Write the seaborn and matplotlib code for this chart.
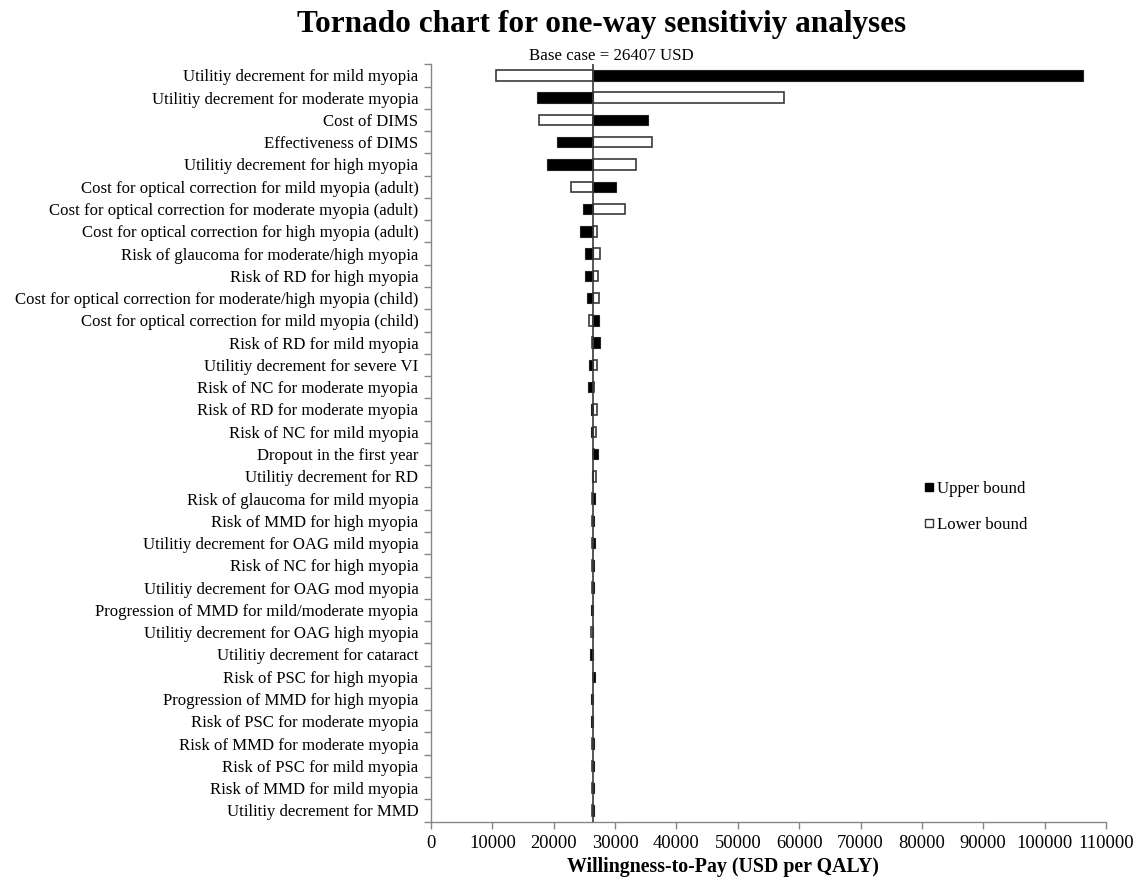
import numpy as np
import pandas as pd
import matplotlib
matplotlib.use("Agg")
import matplotlib.pyplot as plt
from matplotlib.lines import Line2D
import seaborn as sns

BASE_CASE = 26407

parameters = [
    "Utilitiy decrement for mild myopia",
    "Utilitiy decrement for moderate myopia",
    "Cost of DIMS",
    "Effectiveness of DIMS",
    "Utilitiy decrement for high myopia",
    "Cost for optical correction for mild myopia (adult)",
    "Cost for optical correction for moderate myopia (adult)",
    "Cost for optical correction for high myopia (adult)",
    "Risk of glaucoma for moderate/high myopia",
    "Risk of RD for high myopia",
    "Cost for optical correction for moderate/high myopia (child)",
    "Cost for optical correction for mild myopia (child)",
    "Risk of RD for mild myopia",
    "Utilitiy decrement for severe VI",
    "Risk of NC for moderate myopia",
    "Risk of RD for moderate myopia",
    "Risk of NC for mild myopia",
    "Dropout in the first year",
    "Utilitiy decrement for RD",
    "Risk of glaucoma for mild myopia",
    "Risk of MMD for high myopia",
    "Utilitiy decrement for OAG mild myopia",
    "Risk of NC for high myopia",
    "Utilitiy decrement for OAG mod myopia",
    "Progression of MMD for mild/moderate myopia",
    "Utilitiy decrement for OAG high myopia",
    "Utilitiy decrement for cataract",
    "Risk of PSC for high myopia",
    "Progression of MMD for high myopia",
    "Risk of PSC for moderate myopia",
    "Risk of MMD for moderate myopia",
    "Risk of PSC for mild myopia",
    "Risk of MMD for mild myopia",
    "Utilitiy decrement for MMD",
]

# WTP (USD per QALY) at the upper and lower bound of each parameter
upper_bound = [
    106200, 17200, 35400, 20600, 18850, 30150, 24750, 24300, 25150, 25050,
    25400, 27400, 27500, 25800, 25600, 26100, 26000, 27300, 26200, 26700,
    26600, 26700, 26600, 26550, 26150, 26450, 25950, 26750, 26150, 26150,
    26650, 26600, 26500, 26550,
]
lower_bound = [
    10600, 57600, 17550, 36100, 33350, 22900, 31700, 27100, 27550, 27300,
    27400, 25700, 26300, 27000, 26600, 27000, 26900, 26600, 26900, 26200,
    26200, 26200, 26250, 26200, 26450, 26150, 26350, 26350, 26450, 26400,
    26300, 26250, 26250, 26250,
]

x_ticks = list(range(0, 110001, 10000))

sns.set_style("ticks")
plt.rcParams["font.family"] = ["Liberation Serif", "DejaVu Serif"]
plt.rcParams.update({
    "text.color": "black",
    "axes.labelcolor": "black",
    "xtick.labelcolor": "black",
    "ytick.labelcolor": "black",
})

df = pd.DataFrame({
    "parameter": parameters,
    "upper": np.array(upper_bound) - BASE_CASE,
    "lower": np.array(lower_bound) - BASE_CASE,
})

fig = plt.figure(figsize=(11.41, 8.89), dpi=100)
ax = fig.add_axes([0.3777, 0.0759, 0.5916, 0.8518])

# bars grow from the base case in both directions
sns.barplot(data=df, x="lower", y="parameter", order=parameters, orient="h",
            left=BASE_CASE, color="white", saturation=1, edgecolor="#3a3a3a",
            linewidth=1.2, width=0.47, errorbar=None, ax=ax, zorder=2)
sns.barplot(data=df, x="upper", y="parameter", order=parameters, orient="h",
            left=BASE_CASE, color="black", saturation=1, edgecolor="#222222",
            linewidth=0.8, width=0.47, errorbar=None, ax=ax, zorder=2)

ax.axvline(BASE_CASE, color="#3a3a3a", lw=1.2, zorder=3)
ax.annotate(f"Base case = {BASE_CASE} USD", xy=(BASE_CASE, -0.5),
            xytext=(13.5, 0), textcoords="offset points",
            ha="center", va="bottom", fontsize=12.2)

ax.set_xlim(0, 110000)
ax.set_ylim(len(parameters) - 0.5, -0.5)
ax.set_xticks(x_ticks)
ax.set_xticklabels([str(t) for t in x_ticks])
ax.set_xlabel("")
ax.set_ylabel("")

ax.set_yticks(np.arange(-0.5, len(parameters), 1), minor=True)
ax.tick_params(axis="y", which="major", length=0, pad=9, labelsize=12.1)
ax.tick_params(axis="y", which="minor", length=5, color="#868686", width=1)
ax.tick_params(axis="x", which="major", length=5, color="#868686", width=1,
               pad=5, labelsize=13.3)

for side in ("top", "right"):
    ax.spines[side].set_visible(False)
for side in ("left", "bottom"):
    ax.spines[side].set_color("#868686")
    ax.spines[side].set_linewidth(1)

fig.text(0.527, 0.973, "Tornado chart for one-way sensitiviy analyses",
         ha="center", va="center", fontsize=22.5, fontweight="bold")
fig.text(0.634, 0.025, "Willingness-to-Pay (USD per QALY)",
         ha="center", va="center", fontsize=14.3, fontweight="bold")

handles = [
    Line2D([], [], marker="s", linestyle="none", markersize=6.3,
           markerfacecolor="black", markeredgecolor="black"),
    Line2D([], [], marker="s", linestyle="none", markersize=6.3,
           markerfacecolor="white", markeredgecolor="#333333"),
]
fig.legend(handles, ["Upper bound", "Lower bound"], loc="center left",
           bbox_to_anchor=(0.802, 0.4298), frameon=False, fontsize=12.2,
           handletextpad=0.2, labelspacing=1.15, borderpad=0, handlelength=0.6)

fig.savefig("out.png", dpi=100)
